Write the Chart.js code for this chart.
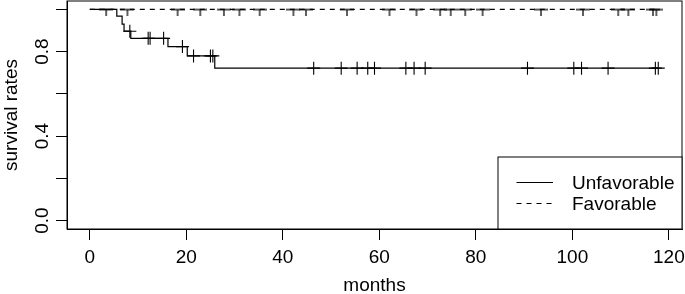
<!DOCTYPE html>
<html>
<head>
<meta charset="utf-8">
<script src="https://cdn.jsdelivr.net/npm/chart.js@4"></script>
<style>
  html, body { margin: 0; padding: 0; background: #fff; }
  #wrap { width: 685px; height: 294px; }
</style>
</head>
<body>
<div id="wrap"><canvas id="km"></canvas></div>
<script>
// =====================
// DATA
// =====================
const groupNames = ["Unfavorable", "Favorable"];

// Unfavorable: times of deaths and survival right after each drop
const unfavEventTimes = [5.6, 6.7, 7.1, 8.5, 16.2, 20.2, 25.9];
const unfavSurvival = [0.968, 0.930, 0.897, 0.863, 0.824, 0.780, 0.722];
const unfavCensored = [8.3, 12.1, 12.5, 15.3, 19.2, 21.5, 25.0, 25.5, 46.4, 52.1, 55.4, 57.6,
    59.0, 65.5, 67.2, 69.5, 90.7, 100.3, 101.9, 107.4, 117.2, 117.8];

// Favorable: no deaths, only censored patients
const favEventTimes = [];
const favSurvival = [];
const favCensored = [3.4, 7.8, 18.2, 22.9, 27.8, 31.0, 35.2, 42.2, 44.8, 53.3, 62.1, 67.7,
    72.6, 74.8, 77.8, 81.4, 93.5, 102.2, 109.5, 111.6, 116.7, 117.4];

const xTicks = [0, 20, 40, 60, 80, 100, 120];
const yTicks = [0, 0.2, 0.4, 0.6, 0.8, 1.0];
const yLabelled = [0, 0.4, 0.8];

const FONT = "'Liberation Sans', Arial, Helvetica, sans-serif";

// =====================
// KM HELPERS
// =====================
function survAt(times, surv, t) {
    let s = 1;
    times.forEach((tt, i) => { if (tt <= t) s = surv[i]; });
    return s;
}

function stepPoints(times, surv, censored) {
    const pts = [{ x: 0, y: 1 }];
    times.forEach((t, i) => pts.push({ x: t, y: surv[i] }));
    const end = Math.max(...censored, ...times);
    pts.push({ x: end, y: survAt(times, surv, end) });
    return pts;
}

function censorPoints(times, surv, censored) {
    return censored.map(t => ({ x: t, y: survAt(times, surv, t) }));
}

// censor mark for the favorable group: arms sideways, tick only downward
function makeDownTick() {
    const c = document.createElement("canvas");
    c.width = 14; c.height = 14;
    const g = c.getContext("2d");
    g.strokeStyle = "#000";
    g.lineWidth = 1.25;
    g.beginPath();
    g.moveTo(0, 7); g.lineTo(14, 7);
    g.moveTo(7, 7); g.lineTo(7, 14);
    g.stroke();
    return c;
}

// =====================
// FRAME + LEGEND
// =====================
const framePlugin = {
    id: "frame",
    afterDraw(chart) {
        const { ctx, chartArea: ca } = chart;
        ctx.save();
        ctx.strokeStyle = "#000";
        ctx.lineWidth = 1;
        ctx.strokeRect(ca.left, ca.top, ca.right - ca.left, ca.bottom - ca.top);

        // legend box in the lower right corner
        const bw = 184, bh = 72;
        const bx = ca.right - bw, by = ca.bottom - bh;
        ctx.fillStyle = "#fff";
        ctx.fillRect(bx, by, bw, bh);
        ctx.strokeRect(bx, by, bw, bh);

        ctx.font = "19px " + FONT;
        ctx.fillStyle = "#000";
        ctx.textBaseline = "alphabetic";
        const dashes = [[], [5, 5]];
        groupNames.forEach((name, i) => {
            const ly = by + 25.5 + i * 21;
            ctx.setLineDash(dashes[i]);
            ctx.beginPath();
            ctx.moveTo(bx + 18.5, ly);
            ctx.lineTo(bx + 55, ly);
            ctx.stroke();
            ctx.setLineDash([]);
            ctx.fillText(name, bx + 74, ly + 6);
        });
        ctx.restore();
    }
};

// =====================
// CHART
// =====================
const axisFont = { family: FONT, size: 19 };

new Chart(document.getElementById("km"), {
    type: "line",
    data: {
        datasets: [
            {
                label: groupNames[0],
                data: stepPoints(unfavEventTimes, unfavSurvival, unfavCensored),
                borderColor: "#000",
                borderWidth: 1.2,
                pointRadius: 0,
                stepped: "before",
                fill: false
            },
            {
                label: groupNames[1],
                data: stepPoints(favEventTimes, favSurvival, favCensored),
                borderColor: "#000",
                borderWidth: 1.2,
                borderDash: [5, 5],
                pointRadius: 0,
                stepped: "before",
                fill: false
            },
            {
                label: groupNames[0] + " censored",
                data: censorPoints(unfavEventTimes, unfavSurvival, unfavCensored),
                showLine: false,
                pointStyle: "cross",
                pointRadius: 6.5,
                pointBorderWidth: 1.1,
                pointBorderColor: "#000"
            },
            {
                label: groupNames[1] + " censored",
                data: censorPoints(favEventTimes, favSurvival, favCensored),
                showLine: false,
                pointStyle: makeDownTick(),
                pointRadius: 7
            }
        ]
    },
    options: {
        responsive: true,
        maintainAspectRatio: false,
        animation: false,
        events: [],
        layout: { autoPadding: false, padding: { top: 1, right: 3, left: 0, bottom: 0 } },
        plugins: { legend: { display: false }, tooltip: { enabled: false } },
        scales: {
            x: {
                type: "linear",
                min: -4.72,
                max: 122.72,
                afterBuildTicks: s => { s.ticks = xTicks.map(v => ({ value: v })); },
                afterFit: s => { s.height = 65; s.paddingLeft = 0; s.paddingRight = 0; },
                grid: { drawOnChartArea: false, drawTicks: true, tickLength: 11, color: "#000" },
                border: { display: true, color: "#000" },
                ticks: { font: axisFont, color: "#000", padding: 6, autoSkip: false, maxRotation: 0 },
                title: {
                    display: true, text: "months", color: "#000",
                    font: { family: FONT, size: 19, lineHeight: 0.9 },
                    padding: { top: 0, bottom: 0 }
                }
            },
            y: {
                type: "linear",
                min: -0.04,
                max: 1.04,
                afterBuildTicks: s => { s.ticks = yTicks.map(v => ({ value: v })); },
                afterFit: s => { s.width = 67; s.paddingTop = 0; s.paddingBottom = 0; },
                grid: { drawOnChartArea: false, drawTicks: true, tickLength: 11, color: "#000" },
                border: { display: true, color: "#000" },
                ticks: {
                    font: axisFont, color: "#000", padding: 0, autoSkip: false,
                    minRotation: 90, maxRotation: 90, crossAlign: "center",
                    callback: v => yLabelled.includes(v) ? v.toFixed(1) : ""
                },
                title: {
                    display: true, text: "survival rates", color: "#000",
                    font: { family: FONT, size: 19, lineHeight: 0.9 },
                    padding: { top: 3, bottom: 0 }
                }
            }
        }
    },
    plugins: [framePlugin]
});
</script>
</body>
</html>
